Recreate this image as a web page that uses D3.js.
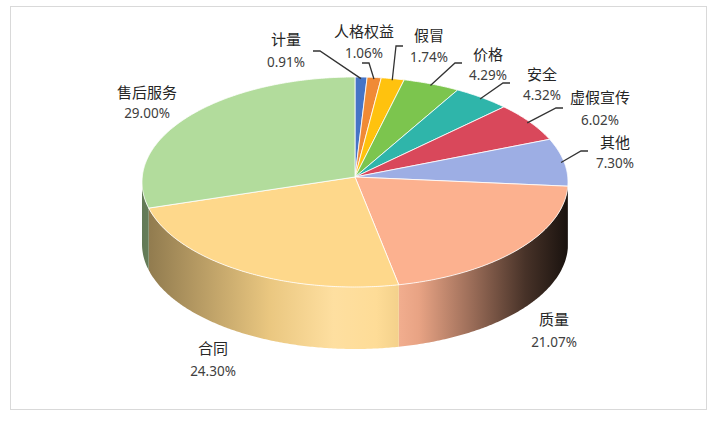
<!DOCTYPE html>
<html>
<head>
<meta charset="utf-8">
<script src="https://cdn.jsdelivr.net/npm/d3@7"></script>
<style>
  html, body { margin: 0; padding: 0; background: #fff; }
  svg { display: block; }
</style>
</head>
<body>
<svg id="chart" width="723" height="421"></svg>
<script>
// data
const categories = ['计量', '人格权益', '假冒', '价格', '安全', '虚假宣传', '其他', '质量', '合同', '售后服务'];
const values = [0.91, 1.06, 1.74, 4.29, 4.32, 6.02, 7.30, 21.07, 24.30, 29.00];
const pctLabels = ['0.91%', '1.06%', '1.74%', '4.29%', '4.32%', '6.02%', '7.30%', '21.07%', '24.30%', '29.00%'];
const colors = ['#4674C6', '#F08A35', '#FFC20E', '#7CC54E', '#2FB5AA', '#D9485B', '#9DAEE4', '#FCB18F', '#FED88B', '#B2DC9C'];

// label layout: [centre x, name y, pct y]
const labelPos = [
  [286, 40, 62], [364, 32, 53], [429, 36, 57], [488, 55, 75], [542, 75, 95],
  [600, 98, 120], [615, 143, 163], [554, 320, 342], [213, 349, 371], [147, 93, 113]
];
// leader line start points (null = no line)
const leaderStart = [
  [313, 51], [362, 63], [403, 46], [462, 63], [510, 83], [563, 108], [588, 151], null, null, null
];

const svg = d3.select('#chart');

// frame
svg.append('rect')
  .attr('x', 10.5).attr('y', 6.5)
  .attr('width', 696).attr('height', 403)
  .attr('fill', '#fff')
  .attr('stroke', '#d9d9d9');

// pie geometry
const cx = 355, cy = 182, rx = 213, ry = 105, depth = 62;
const apexX = cx, apexY = cy - 5;

const pie = d3.pie().sort(null).value(d => d)(values);

const pt = (a, dy = 0, k = 1) => [cx + rx * k * Math.sin(a), cy - ry * k * Math.cos(a) + dy];

function arcPoints(a0, a1, dy = 0) {
  const n = Math.max(2, Math.ceil((a1 - a0) / 0.01));
  const pts = [];
  for (let i = 0; i <= n; i++) pts.push(pt(a0 + (a1 - a0) * i / n, dy));
  return pts;
}

// wall shading across x
const shadeStops = [
  [0, -0.45], [0.12, -0.3], [0.3, -0.08], [0.45, 0.18], [0.55, 0.1],
  [0.65, -0.08], [0.78, -0.4], [0.9, -0.72], [1, -0.9]
];
function shade(c, f) {
  return f >= 0 ? d3.interpolateRgb(c, '#ffffff')(f) : d3.interpolateRgb(c, '#000000')(-f);
}

const defs = svg.append('defs');
const line = d3.line();

// walls (front half only)
const walls = svg.append('g');
pie.forEach((d, i) => {
  const a0 = Math.max(d.startAngle, Math.PI / 2);
  const a1 = Math.min(d.endAngle, Math.PI * 1.5);
  if (a1 <= a0) return;
  const gid = 'wall' + i;
  const g = defs.append('linearGradient')
    .attr('id', gid)
    .attr('gradientUnits', 'userSpaceOnUse')
    .attr('x1', cx - rx).attr('x2', cx + rx)
    .attr('y1', 0).attr('y2', 0);
  shadeStops.forEach(s => {
    g.append('stop').attr('offset', s[0]).attr('stop-color', shade(colors[i], s[1]));
  });
  const pts = arcPoints(a0, a1).concat(arcPoints(a0, a1, depth).reverse());
  walls.append('path')
    .attr('d', line(pts) + 'Z')
    .attr('fill', `url(#${gid})`);
});

// top faces
const tops = svg.append('g');
pie.forEach((d, i) => {
  const pts = [[apexX, apexY]].concat(arcPoints(d.startAngle, d.endAngle));
  tops.append('path')
    .attr('d', line(pts) + 'Z')
    .attr('fill', colors[i])
    .attr('stroke', '#fff')
    .attr('stroke-width', 0.8)
    .attr('stroke-linejoin', 'round');
});

// leader lines
const leaders = svg.append('g');
pie.forEach((d, i) => {
  const s = leaderStart[i];
  if (!s) return;
  const mid = (d.startAngle + d.endAngle) / 2;
  const e = pt(mid, 0, 0.985);
  const elbow = [s[0] + Math.sign(e[0] - s[0]) * 7, s[1]];
  leaders.append('path')
    .attr('d', line([s, elbow, e]))
    .attr('fill', 'none')
    .attr('stroke', '#333')
    .attr('stroke-width', 1.3);
});

// labels
const labels = svg.append('g').attr('text-anchor', 'middle');
categories.forEach((c, i) => {
  const p = labelPos[i];
  labels.append('text')
    .attr('x', p[0]).attr('y', p[1]).attr('dy', '0.36em')
    .attr('font-family', '"Noto Sans CJK SC", sans-serif')
    .attr('font-size', 15)
    .attr('fill', '#262626')
    .text(c);
  labels.append('text')
    .attr('x', p[0]).attr('y', p[2]).attr('dy', '0.36em')
    .attr('font-family', '"Noto Sans", sans-serif')
    .attr('font-size', 13.5)
    .attr('fill', '#404040')
    .text(pctLabels[i]);
});
</script>
</body>
</html>
